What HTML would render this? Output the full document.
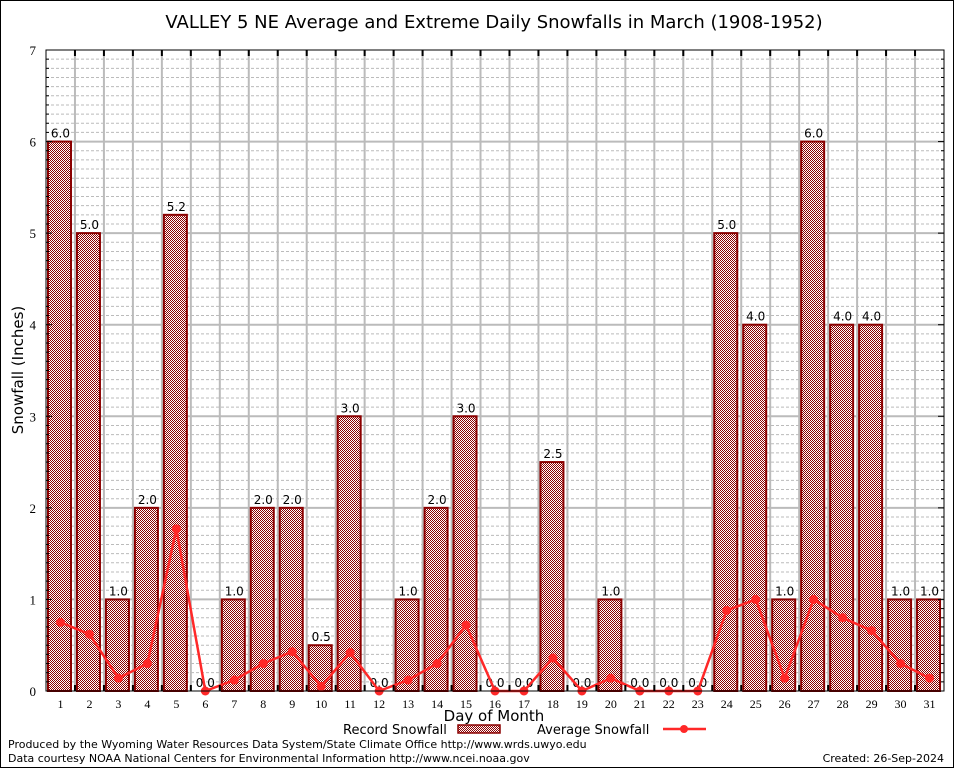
<!DOCTYPE html>
<html><head><meta charset="utf-8"><style>
html,body{margin:0;padding:0;background:#fff;}
svg{display:block;}
</style></head><body>
<svg width="954" height="768" viewBox="0 0 954 768" xmlns="http://www.w3.org/2000/svg">
<defs>
<pattern id="chk" width="2" height="2" patternUnits="userSpaceOnUse">
<rect width="2" height="2" fill="#ffffff"/>
<rect width="1" height="1" fill="#8b0000"/>
<rect x="1" y="1" width="1" height="1" fill="#8b0000"/>
</pattern>
</defs>
<rect x="0.5" y="0.5" width="953" height="767" fill="#fff" stroke="#000"/>
<text x="494" y="28" font-family="DejaVu Sans, sans-serif" font-size="18" text-anchor="middle">VALLEY 5 NE Average and Extreme Daily Snowfalls in March (1908-1952)</text>
<g id="grid"></g>
<g id="bars"></g>
<g id="line"></g>
<rect x="46" y="50" width="898" height="641" fill="none" stroke="#000" stroke-width="1"/>
<g id="ticks"></g>
<text transform="translate(23,370) rotate(-90)" font-family="DejaVu Sans, sans-serif" font-size="15" text-anchor="middle">Snowfall (Inches)</text>
<text x="494" y="721" font-family="DejaVu Sans, sans-serif" font-size="15" text-anchor="middle">Day of Month</text>
<text x="343" y="734" font-family="DejaVu Sans, sans-serif" font-size="13">Record Snowfall</text>
<rect x="458" y="725" width="42" height="8" fill="url(#chk)" stroke="#8b0000" stroke-width="1.5"/>
<text x="537" y="734" font-family="DejaVu Sans, sans-serif" font-size="13">Average Snowfall</text>
<line x1="663" y1="729" x2="706" y2="729" stroke="#ff2828" stroke-width="2.5"/>
<circle cx="684" cy="729" r="4" fill="#ff2828"/>
<text x="8" y="748" font-family="DejaVu Sans, sans-serif" font-size="11">Produced by the Wyoming Water Resources Data System/State Climate Office http://www.wrds.uwyo.edu</text>
<text x="8" y="762" font-family="DejaVu Sans, sans-serif" font-size="11">Data courtesy NOAA National Centers for Environmental Information http://www.ncei.noaa.gov</text>
<text x="944" y="762" font-family="DejaVu Sans, sans-serif" font-size="11" text-anchor="end">Created: 26-Sep-2024</text>
<script>
var ns="http://www.w3.org/2000/svg";
function el(p,t,a,txt){var e=document.createElementNS(ns,t);for(var k in a)e.setAttribute(k,a[k]);if(txt!=null)e.textContent=txt;document.getElementById(p).appendChild(e);return e;}
var L=46,R=944,T=50,B=691,bw=(R-L)/31,py=(B-T)/7;
function Y(v){return B-v*py;}
for(var i=1;i<70;i++){if(i%10==0)continue;var y=Y(i/10);el("grid","line",{x1:L,x2:R,y1:y,y2:y,stroke:"#bbb","stroke-width":1,"stroke-dasharray":"3,2"});}
for(var i=1;i<7;i++){var y=Y(i);el("grid","line",{x1:L,x2:R,y1:y,y2:y,stroke:"#bbb","stroke-width":2});}
for(var i=1;i<31;i++){var x=L+i*bw;el("grid","line",{x1:x,x2:x,y1:T,y2:B,stroke:"#bbb","stroke-width":2});}
var rec=[6,5,1,2,5.2,0,1,2,2,0.5,3,0,1,2,3,0,0,2.5,0,1,0,0,0,5,4,1,6,4,4,1,1];
var avg=[0.75,0.62,0.14,0.3,1.77,0,0.12,0.3,0.43,0.05,0.42,0,0.12,0.3,0.72,0,0,0.36,0,0.14,0,0,0,0.88,1.0,0.14,1.0,0.8,0.66,0.3,0.14];
for(var i=0;i<31;i++){var b=L+i*bw;
if(rec[i]>0)el("bars","rect",{x:b+2,y:Y(rec[i]),width:23,height:B-Y(rec[i]),fill:"url(#chk)",stroke:"#8b0000","stroke-width":2});
el("bars","text",{x:b+bw/2,y:Y(rec[i])-4,"font-family":"DejaVu Sans, sans-serif","font-size":12,"text-anchor":"middle"},rec[i].toFixed(1));
el("ticks","text",{x:b+bw/2,y:708,"font-family":"Liberation Serif, serif","font-size":12,"text-anchor":"middle"},String(i+1));
}
var pts=avg.map(function(v,i){return (L+i*bw+bw/2)+","+Y(v);}).join(" ");
el("line","polyline",{points:pts,fill:"none",stroke:"#ff2828","stroke-width":2.5});
avg.forEach(function(v,i){el("line","circle",{cx:L+i*bw+bw/2,cy:Y(v),r:4.5,fill:"#ff2828"});});
for(var i=0;i<=7;i++){el("ticks","text",{x:36,y:Y(i)+5,"font-family":"Liberation Serif, serif","font-size":13,"text-anchor":"end"},String(i));}
for(var i=1;i<70;i++){var y=Y(i/10),w=(i%10==0)?6:3;el("ticks","line",{x1:L,x2:L+w,y1:y,y2:y,stroke:"#000"});el("ticks","line",{x1:R,x2:R-w,y1:y,y2:y,stroke:"#000"});}
for(var i=1;i<31;i++){var x=L+i*bw;el("ticks","line",{x1:x,x2:x,y1:T,y2:T+6,stroke:"#000","stroke-width":2});el("ticks","line",{x1:x,x2:x,y1:B,y2:B-6,stroke:"#000","stroke-width":2});}
</script>
</svg>
</body></html>
